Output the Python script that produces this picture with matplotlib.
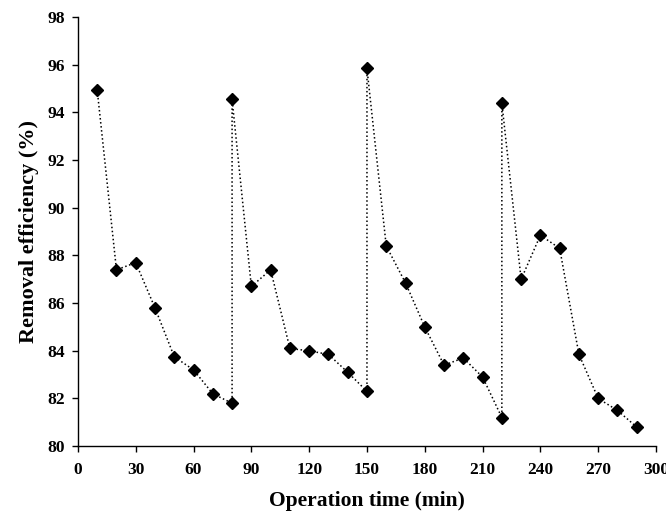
import matplotlib
matplotlib.use('Agg')
import matplotlib.pyplot as plt

# ── Data ──────────────────────────────────────────────────────────────────────
time_min = [10, 20, 30, 40, 50, 60, 70, 80,
            80, 90, 100, 110, 120, 130, 140, 150,
            150, 160, 170, 180, 190, 200, 210, 220,
            220, 230, 240, 250, 260, 270, 280, 290]
efficiency = [94.95, 87.4, 87.7, 85.8, 83.75, 83.2, 82.2, 81.8,
              94.55, 86.7, 87.4, 84.1, 84.0, 83.85, 83.1, 82.3,
              95.85, 88.4, 86.85, 85.0, 83.4, 83.7, 82.9, 81.2,
              94.4, 87.0, 88.85, 88.3, 83.85, 82.0, 81.5, 80.8]

x_ticks = list(range(0, 301, 30))
y_ticks = list(range(80, 99, 2))

# ── Style ─────────────────────────────────────────────────────────────────────
plt.rcParams.update({'font.family': ['Liberation Serif', 'DejaVu Serif'],
                     'font.weight': 'bold'})

fig = plt.figure(figsize=(6.66, 5.2), dpi=100)
ax = fig.add_axes([0.117, 0.142, 0.868, 0.825])

ax.plot(time_min, efficiency, color='black', linestyle=':', linewidth=1.1,
        marker='D', markersize=6, markerfacecolor='black', markeredgecolor='black')

ax.set_xlim(0, 300)
ax.set_ylim(80, 98)
ax.set_xticks(x_ticks)
ax.set_yticks(y_ticks)
ax.tick_params(direction='out', length=4.5, width=1, labelsize=12.5)
ax.tick_params(axis='x', pad=7)
ax.tick_params(axis='y', pad=5)
for lbl in ax.get_xticklabels() + ax.get_yticklabels():
    lbl.set_fontweight('bold')

for side in ('top', 'right'):
    ax.spines[side].set_visible(False)
for side in ('left', 'bottom'):
    ax.spines[side].set_linewidth(1.0)

ax.set_xlabel('Operation time (min)', fontsize=15.5, fontweight='bold', labelpad=9)
ax.set_ylabel('Removal efficiency (%)', fontsize=16, fontweight='bold', labelpad=6)

fig.savefig('out.png', dpi=100)
